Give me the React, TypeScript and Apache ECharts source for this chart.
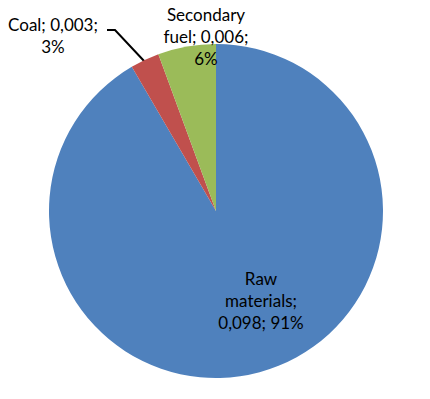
import React, { useEffect, useRef } from "react";
import * as echarts from "echarts";

const categories = ["Raw materials", "Coal", "Secondary fuel"];
const values = [0.098, 0.003, 0.006];
const percents = [91, 3, 6];
const labelTexts = ["Raw\nmaterials;\n0,098; 91%", "Coal; 0,003;\n3%", "Secondary\nfuel; 0,006;\n6%"];
const colors = ["#4F81BD", "#C0504D", "#9BBB59"];

export default function App() {
  const ref = useRef<HTMLDivElement>(null);
  useEffect(() => {
    document.body.style.margin = "0";
    const chart = echarts.init(ref.current!, null, { renderer: "svg" });
    const labelPos: Record<number, { x: number; y: number }> = {
      0: { x: 261, y: 300 },
      1: { x: 53, y: 35 },
      2: { x: 206, y: 36 },
    };
    chart.setOption({
      animation: false,
      backgroundColor: "#ffffff",
      series: [
        {
          type: "pie",
          center: [216, 211],
          radius: [0, 167],
          startAngle: 90,
          clockwise: true,
          data: categories.map((name, i) => ({
            name,
            value: values[i],
            itemStyle: { color: colors[i] },
            labelLine: { show: i === 1 },
          })),
          label: {
            show: true,
            position: "outside",
            formatter: (p: any) => labelTexts[p.dataIndex],
            color: "#000",
            fontFamily: "Lato",
            fontSize: 17,
            lineHeight: 22,
            align: "center",
            overflow: "none",
          },
          labelLine: {
            show: true,
            lineStyle: { color: "#000", width: 2 },
          },
          labelLayout: (params: any) => {
            const pos = labelPos[params.dataIndex];
            const res: any = {
              x: pos.x,
              y: pos.y,
              align: "center",
              verticalAlign: "middle",
            };
            if (params.dataIndex === 1) {
              res.labelLinePoints = [
                [145, 62],
                [115, 30],
                [107, 30],
              ];
            }
            return res;
          },
          emphasis: { disabled: true },
        },
      ],
    });
    return () => chart.dispose();
  }, []);
  return <div ref={ref} style={{ width: 430, height: 399 }} />;
}
